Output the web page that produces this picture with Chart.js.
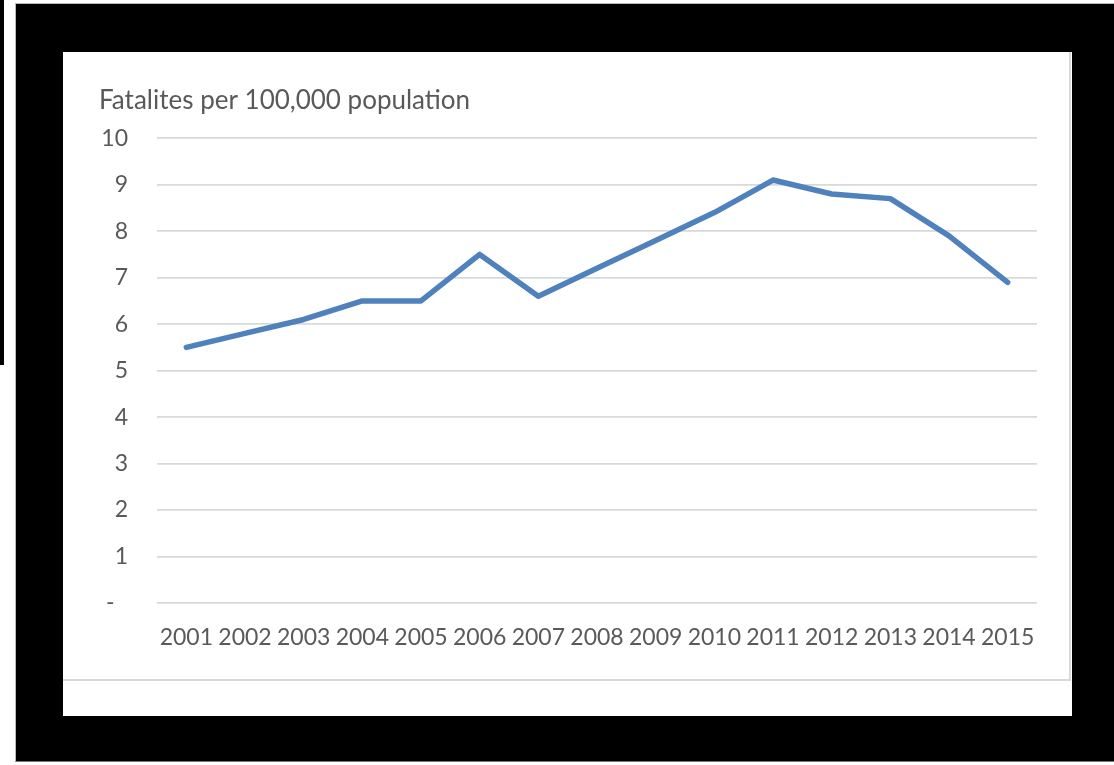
<!DOCTYPE html>
<html>
<head>
<meta charset="utf-8">
<script src="https://cdn.jsdelivr.net/npm/chart.js@4.4.1/dist/chart.umd.min.js"></script>
<style>
  html, body { margin: 0; padding: 0; background: #fff; }
  body { width: 1114px; height: 765px; position: relative; overflow: hidden; }
  #edge { position: absolute; left: 0; top: 0; width: 4px; height: 365px; background: #000; }
  #frame { position: absolute; left: 15px; top: 3px; width: 1099px; height: 759px; background: #000; border-top: 1px solid #bbb; border-left: 1px solid #bbb; border-bottom: 1px solid #777; box-sizing: border-box; }
  #panel { position: absolute; left: 63px; top: 52px; width: 1009px; height: 664px; background: #fff; }
  #box { position: absolute; left: 0; top: 0; width: 1008px; height: 629px; border-right: 2px solid #d9d9d9; border-bottom: 2px solid #d9d9d9; box-sizing: border-box; }
  #wrap { position: absolute; left: 0; top: 0; width: 1006px; height: 627px; }
</style>
</head>
<body>
<div id="edge"></div>
<div id="frame"></div>
<div id="panel">
  <div id="box"></div>
  <div id="wrap"><canvas id="line-chart"></canvas></div>
</div>
<script>
const years = ['2001', '2002', '2003', '2004', '2005', '2006', '2007', '2008',
               '2009', '2010', '2011', '2012', '2013', '2014', '2015'];
const fatalities = [5.5, 5.8, 6.1, 6.5, 6.5, 7.5, 6.6, 7.2, 7.8, 8.4, 9.1, 8.8, 8.7, 7.9, 6.9];
const yTicks = [0, 1, 2, 3, 4, 5, 6, 7, 8, 9, 10];
const titleText = 'Fatalites per 100,000 population';

const textColor = '#595959';
const fontFamily = 'Lato, "Open Sans", sans-serif';

const ctx = document.getElementById('line-chart').getContext('2d');
const myChart = new Chart(ctx, {
    type: 'line',
    data: {
        labels: years,
        datasets: [{
            label: titleText,
            data: fatalities,
            borderColor: '#4f81bd',
            borderWidth: 5.5,
            pointRadius: 0,
            tension: 0,
            fill: false,
            borderCapStyle: 'round',
            borderJoinStyle: 'round'
        }]
    },
    options: {
        responsive: true,
        maintainAspectRatio: false,
        animation: false,
        layout: {
            padding: { left: 36, right: 32, top: 0, bottom: 0 }
        },
        plugins: {
            legend: { display: false },
            tooltip: { enabled: false },
            title: {
                display: true,
                text: titleText,
                align: 'start',
                color: textColor,
                font: { family: fontFamily, size: 26, weight: 'normal', lineHeight: 1.2 },
                padding: { top: 33, bottom: 22 }
            }
        },
        scales: {
            x: {
                offset: true,
                grid: { display: false, drawTicks: false },
                border: { display: false },
                ticks: {
                    color: textColor,
                    font: { family: fontFamily, size: 23 },
                    padding: 21,
                    maxRotation: 0,
                    autoSkip: false
                },
                afterFit: function (scale) { scale.height = 76; }
            },
            y: {
                min: 0,
                max: 10,
                afterBuildTicks: function (scale) {
                    scale.ticks = yTicks.map(v => ({ value: v }));
                },
                grid: { color: '#d9d9d9', lineWidth: 1.8, drawTicks: false },
                border: { display: false },
                ticks: {
                    color: textColor,
                    font: { family: fontFamily, size: 23 },
                    padding: 29,
                    callback: function (value) {
                        return value === 0 ? '-\u2007' : value;
                    }
                },
                afterFit: function (scale) { scale.width = 58; }
            }
        }
    }
});
</script>
</body>
</html>
